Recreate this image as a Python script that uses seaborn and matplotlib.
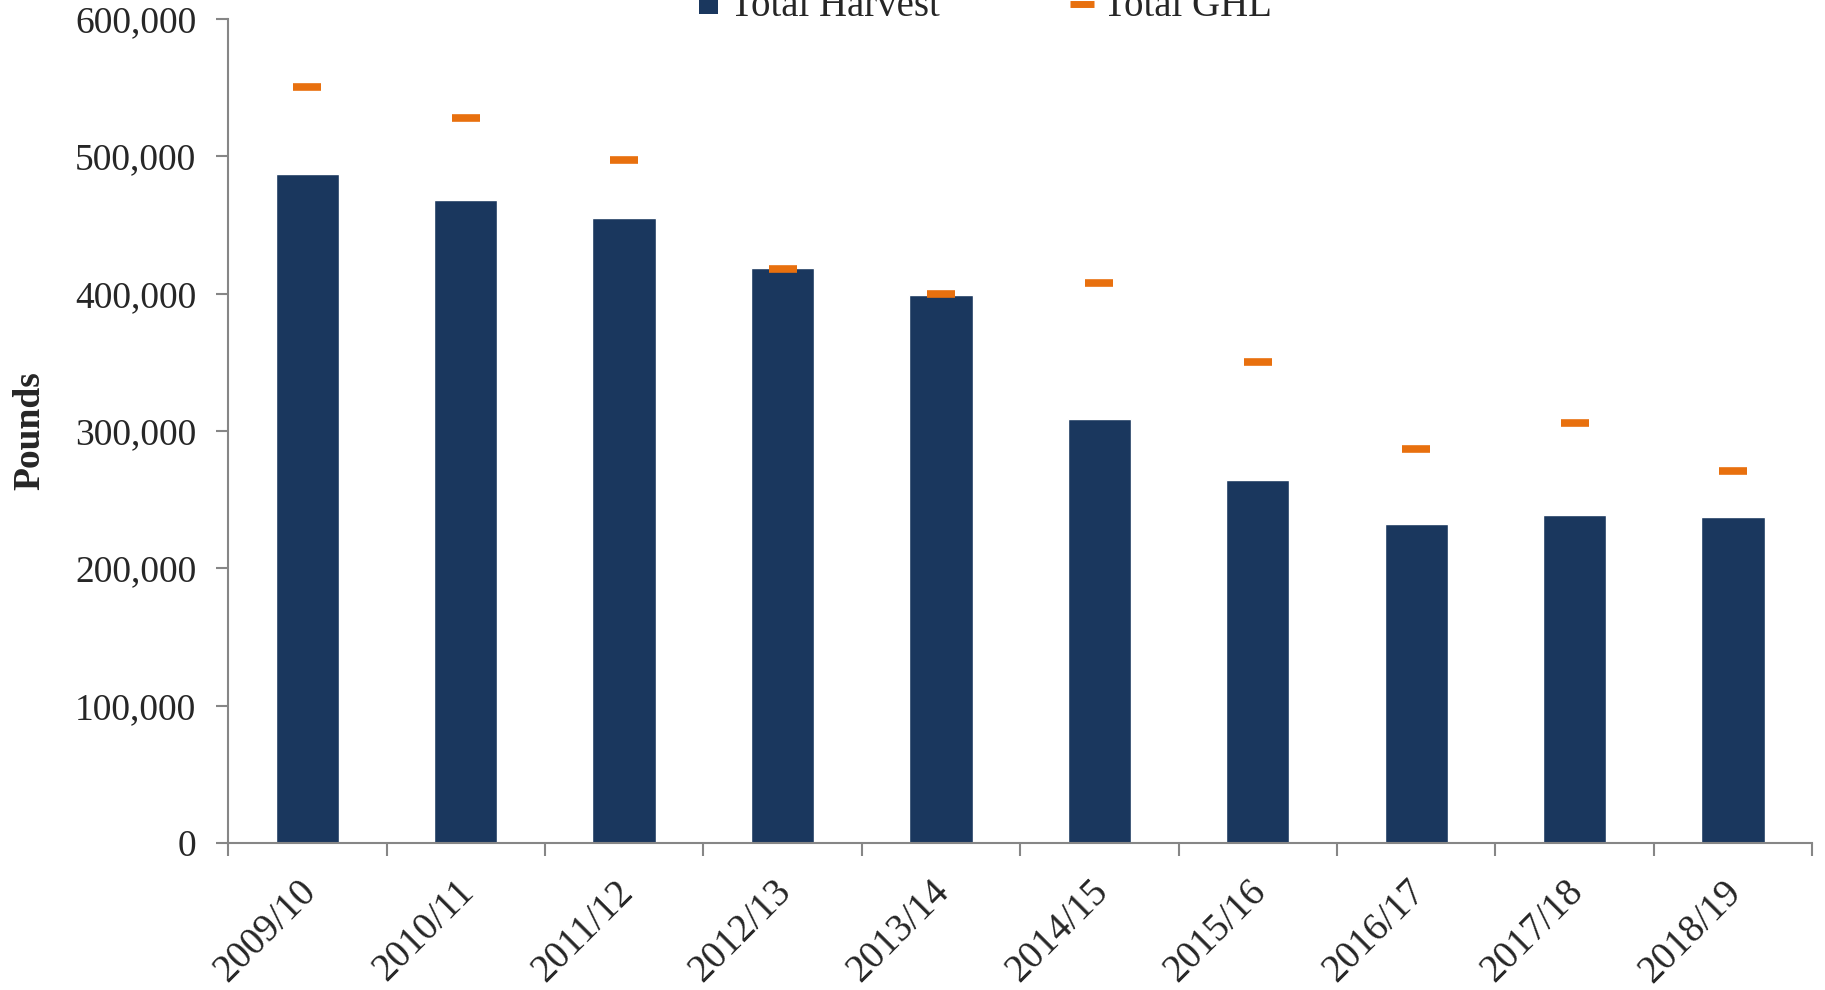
import matplotlib
matplotlib.use("Agg")
import matplotlib.pyplot as plt
import matplotlib.ticker as mticker
import matplotlib.transforms as mtransforms
from matplotlib.patches import Patch
from matplotlib.lines import Line2D
import pandas as pd
import seaborn as sns

seasons = ["2009/10", "2010/11", "2011/12", "2012/13", "2013/14",
           "2014/15", "2015/16", "2016/17", "2017/18", "2018/19"]
total_harvest = [487000, 468000, 455000, 418500, 399000,
                 308500, 264500, 232500, 238500, 237500]
total_ghl = [550000, 528000, 497000, 418000, 400000,
             408000, 350000, 287000, 306000, 271000]

navy = "#1A375E"
orange = "#E8700E"

df = pd.DataFrame({"Season": seasons, "Harvest": total_harvest, "GHL": total_ghl})

sns.set_style("white")
plt.rcParams["font.family"] = ["Liberation Serif", "DejaVu Serif"]

fig, ax = plt.subplots(figsize=(18.25, 9.9), dpi=100)
fig.subplots_adjust(left=0.125, right=0.993, bottom=0.1485, top=0.981)

sns.barplot(data=df, x="Season", y="Harvest", color=navy, width=0.4,
            saturation=1, ax=ax, zorder=2)
sns.pointplot(data=df, x="Season", y="GHL", color=orange, linestyle="none",
              marker="_", markersize=20, markeredgewidth=5.5, ax=ax, zorder=3)

ax.set_xlim(-0.5, len(seasons) - 0.5)
ax.set_ylim(0, 600000)
ax.yaxis.set_major_locator(mticker.MultipleLocator(100000))
ax.yaxis.set_major_formatter(mticker.FuncFormatter(lambda v, p: f"{int(v):,}"))

# Excel-style ticks between categories
ax.set_xticks([i - 0.5 for i in range(len(seasons) + 1)], minor=True)
ax.tick_params(axis="x", which="minor", length=9, width=1.5, color="#868686", direction="out", bottom=True)
ax.tick_params(axis="x", which="major", length=0, pad=22)
ax.tick_params(axis="y", length=9, width=1.5, color="#868686", direction="out", left=True, pad=14)
shift = mtransforms.ScaledTranslation(-0.1, 0, fig.dpi_scale_trans)
for lbl in ax.get_xticklabels():
    lbl.set_rotation(45)
    lbl.set_ha("right")
    lbl.set_rotation_mode("anchor")
    lbl.set_fontsize(28)
    lbl.set_transform(lbl.get_transform() + shift)
plt.setp(ax.get_yticklabels(), fontsize=27)

for side in ["top", "right"]:
    ax.spines[side].set_visible(False)
for side in ["left", "bottom"]:
    ax.spines[side].set_color("#868686")
    ax.spines[side].set_linewidth(1.5)

ax.set_xlabel("")
ax.set_ylabel("Pounds", fontsize=27, fontweight="bold", labelpad=20)

handles = [Patch(facecolor=navy, edgecolor="none"),
           Line2D([], [], color=orange, linestyle="none", marker="_",
                  markersize=17, markeredgewidth=5)]
fig.legend(handles, ["Total Harvest", "Total GHL"], loc="center",
           bbox_to_anchor=(0.540, 0.993), ncol=2, frameon=False, fontsize=28,
           handlelength=0.5, handleheight=0.5, columnspacing=3.4, handletextpad=0.3)

fig.savefig("out.png", dpi=100)
